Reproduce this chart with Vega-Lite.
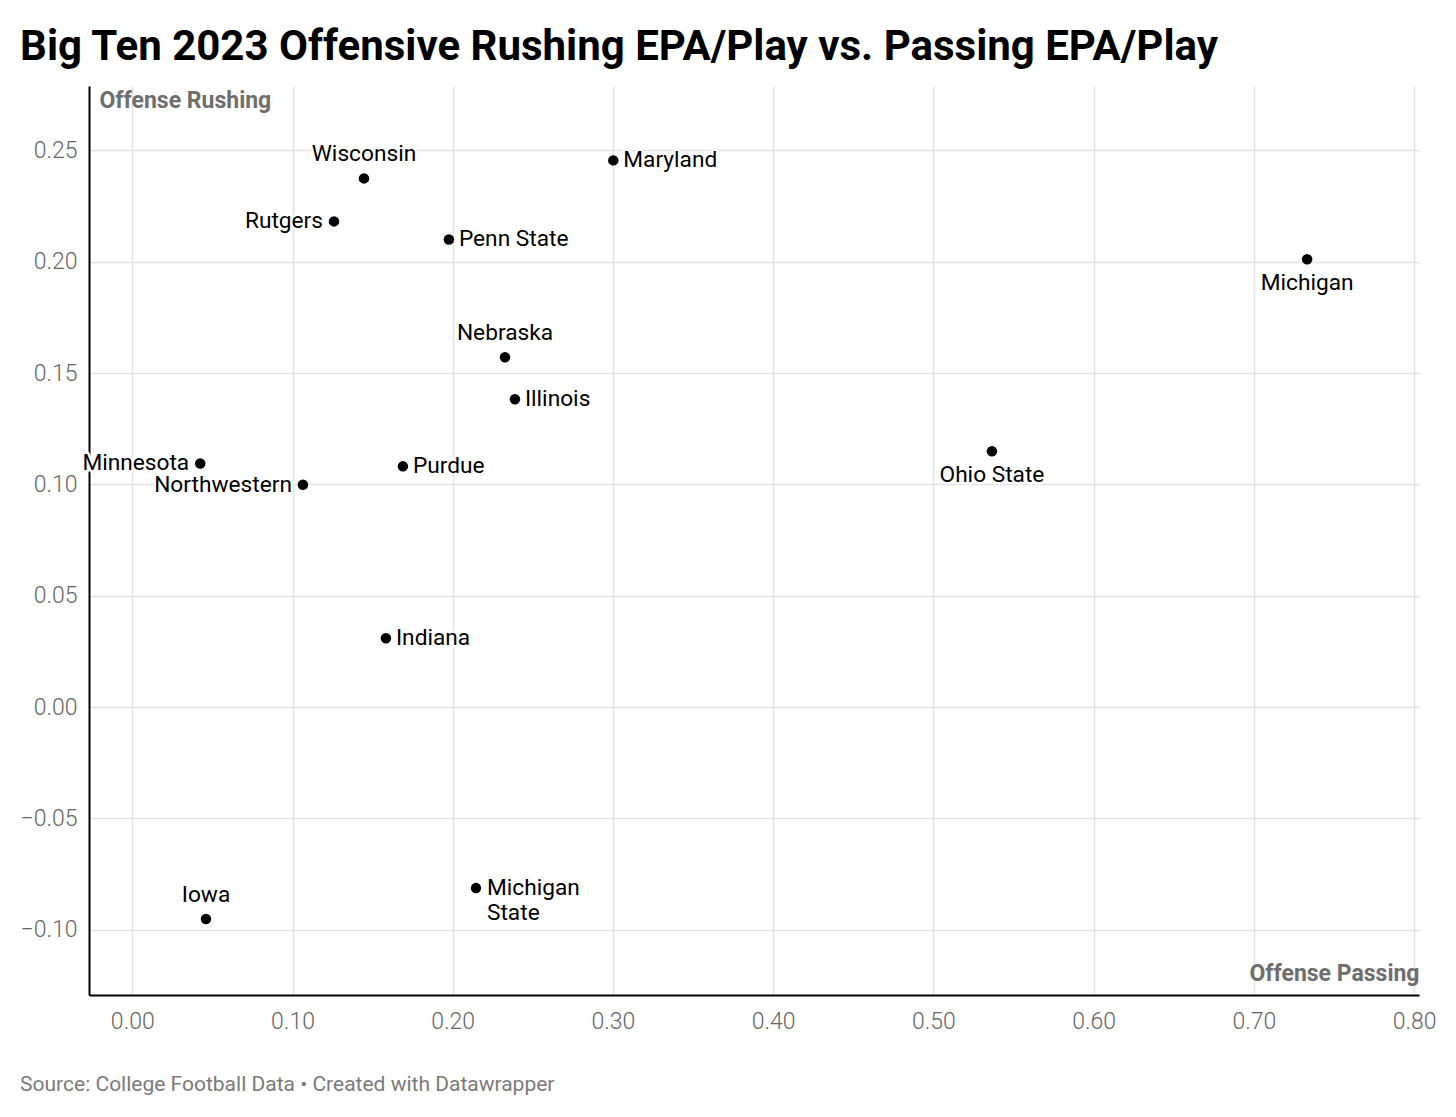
{
  "$schema": "https://vega.github.io/schema/vega-lite/v6.json",
  "background": "white",
  "padding": {"left": 20, "top": 26, "right": 0, "bottom": 0},
  "autosize": {"type": "pad"},
  "config": {
    "view": {"stroke": null},
    "font": "Roboto",
    "axis": {
      "gridColor": "#e2e2e2",
      "gridWidth": 1.5,
      "domainColor": "#000000",
      "domainWidth": 2,
      "ticks": false,
      "tickSize": 0,
      "labelFont": "Roboto",
      "labelFontSize": 23,
      "labelFontWeight": 300,
      "labelColor": "#666666",
      "titleFont": "Roboto",
      "titleFontSize": 23,
      "titleFontWeight": "bold",
      "titleColor": "#6e6e6e"
    }
  },
  "title": {
    "text": "Big Ten 2023 Offensive Rushing EPA/Play vs. Passing EPA/Play",
    "anchor": "start",
    "font": "Roboto",
    "fontSize": 42,
    "fontWeight": "bold",
    "color": "#000000",
    "offset": 17
  },
  "vconcat": [
    {
      "width": 1330,
      "height": 909,
      "title": {
        "text": "Source: College Football Data • Created with Datawrapper",
        "orient": "bottom",
        "anchor": "start",
        "font": "Roboto",
        "fontSize": 21,
        "fontWeight": "normal",
        "color": "#7a7a7a",
        "offset": 41
      },
      "data": {
        "values": [
          {"team": "Wisconsin", "passing": 0.1446, "rushing": 0.2374},
          {"team": "Maryland", "passing": 0.3002, "rushing": 0.2455},
          {"team": "Rutgers", "passing": 0.1259, "rushing": 0.2181},
          {"team": "Penn State", "passing": 0.1976, "rushing": 0.21},
          {"team": "Michigan", "passing": 0.7332, "rushing": 0.2011},
          {"team": "Nebraska", "passing": 0.2326, "rushing": 0.1571},
          {"team": "Illinois", "passing": 0.2388, "rushing": 0.1382},
          {"team": "Ohio State", "passing": 0.5365, "rushing": 0.1149},
          {"team": "Minnesota", "passing": 0.0424, "rushing": 0.1094},
          {"team": "Purdue", "passing": 0.1689, "rushing": 0.1081},
          {"team": "Northwestern", "passing": 0.1065, "rushing": 0.0998},
          {"team": "Indiana", "passing": 0.1583, "rushing": 0.0309},
          {"team": "Michigan State", "passing": 0.2145, "rushing": -0.0813},
          {"team": "Iowa", "passing": 0.046, "rushing": -0.0952}
        ]
      },
      "encoding": {
        "x": {
          "field": "passing",
          "type": "quantitative",
          "scale": {"domain": [-0.027, 0.803], "nice": false, "zero": false},
          "axis": {
            "values": [0, 0.1, 0.2, 0.3, 0.4, 0.5, 0.6, 0.7, 0.8],
            "format": ".2f",
            "grid": true,
            "labelBaseline": "alphabetic",
            "labelPadding": 33,
            "title": "Offense Passing",
            "titleX": 1330,
            "titleY": -15,
            "titleAlign": "right",
            "titleBaseline": "alphabetic",
            "titleAnchor": "end"
          }
        },
        "y": {
          "field": "rushing",
          "type": "quantitative",
          "scale": {"domain": [-0.1293, 0.2789], "nice": false, "zero": false},
          "axis": {
            "values": [-0.1, -0.05, 0, 0.05, 0.1, 0.15, 0.2, 0.25],
            "format": ".2f",
            "grid": true,
            "labelPadding": 12,
            "title": "Offense Rushing",
            "titleAngle": 0,
            "titleX": 10,
            "titleY": 21,
            "titleAlign": "left",
            "titleBaseline": "alphabetic",
            "titleAnchor": "start"
          }
        }
      },
      "layer": [
        {
          "mark": {"type": "point", "filled": true, "color": "#000000", "size": 110, "opacity": 1, "shape": "circle"}
        },
        {
          "transform": [{"filter": {"field": "team", "oneOf": ["Maryland", "Penn State", "Illinois", "Purdue", "Indiana"]}}],
          "mark": {"type": "text", "align": "left", "baseline": "middle", "dx": 10, "fontSize": 22.7, "font": "Roboto", "stroke": "white", "strokeWidth": 5, "strokeJoin": "round", "fill": "white"},
          "encoding": {"text": {"field": "team"}}
        },
        {
          "transform": [{"filter": {"field": "team", "oneOf": ["Maryland", "Penn State", "Illinois", "Purdue", "Indiana"]}}],
          "mark": {"type": "text", "align": "left", "baseline": "middle", "dx": 10, "fontSize": 22.7, "font": "Roboto", "color": "#000000"},
          "encoding": {"text": {"field": "team"}}
        },
        {
          "transform": [{"filter": {"field": "team", "oneOf": ["Rutgers", "Minnesota", "Northwestern"]}}],
          "mark": {"type": "text", "align": "right", "baseline": "middle", "dx": -11, "fontSize": 22.7, "font": "Roboto", "stroke": "white", "strokeWidth": 5, "strokeJoin": "round", "fill": "white"},
          "encoding": {"text": {"field": "team"}}
        },
        {
          "transform": [{"filter": {"field": "team", "oneOf": ["Rutgers", "Minnesota", "Northwestern"]}}],
          "mark": {"type": "text", "align": "right", "baseline": "middle", "dx": -11, "fontSize": 22.7, "font": "Roboto", "color": "#000000"},
          "encoding": {"text": {"field": "team"}}
        },
        {
          "transform": [{"filter": {"field": "team", "oneOf": ["Wisconsin", "Nebraska", "Iowa"]}}],
          "mark": {"type": "text", "align": "center", "baseline": "middle", "dy": -24, "fontSize": 22.7, "font": "Roboto", "stroke": "white", "strokeWidth": 5, "strokeJoin": "round", "fill": "white"},
          "encoding": {"text": {"field": "team"}}
        },
        {
          "transform": [{"filter": {"field": "team", "oneOf": ["Wisconsin", "Nebraska", "Iowa"]}}],
          "mark": {"type": "text", "align": "center", "baseline": "middle", "dy": -24, "fontSize": 22.7, "font": "Roboto", "color": "#000000"},
          "encoding": {"text": {"field": "team"}}
        },
        {
          "transform": [{"filter": {"field": "team", "oneOf": ["Michigan", "Ohio State"]}}],
          "mark": {"type": "text", "align": "center", "baseline": "middle", "dy": 24, "fontSize": 22.7, "font": "Roboto", "stroke": "white", "strokeWidth": 5, "strokeJoin": "round", "fill": "white"},
          "encoding": {"text": {"field": "team"}}
        },
        {
          "transform": [{"filter": {"field": "team", "oneOf": ["Michigan", "Ohio State"]}}],
          "mark": {"type": "text", "align": "center", "baseline": "middle", "dy": 24, "fontSize": 22.7, "font": "Roboto", "color": "#000000"},
          "encoding": {"text": {"field": "team"}}
        },
        {
          "transform": [{"filter": {"field": "team", "equal": "Michigan State"}}],
          "mark": {"type": "text", "align": "left", "baseline": "middle", "dx": 11, "dy": 0, "lineBreak": " ", "lineHeight": 25, "fontSize": 22.7, "font": "Roboto", "stroke": "white", "strokeWidth": 5, "strokeJoin": "round", "fill": "white"},
          "encoding": {"text": {"field": "team"}}
        },
        {
          "transform": [{"filter": {"field": "team", "equal": "Michigan State"}}],
          "mark": {"type": "text", "align": "left", "baseline": "middle", "dx": 11, "dy": 0, "lineBreak": " ", "lineHeight": 25, "fontSize": 22.7, "font": "Roboto", "color": "#000000"},
          "encoding": {"text": {"field": "team"}}
        }
      ]
    }
  ]
}
